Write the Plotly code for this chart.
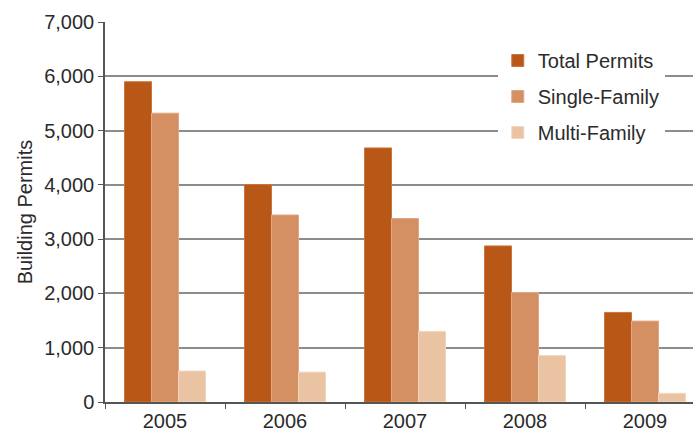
import plotly.graph_objects as go

years = ["2005", "2006", "2007", "2008", "2009"]
total_permits = [5900, 4005, 4680, 2875, 1650]
single_family = [5320, 3445, 3380, 2015, 1490]
multi_family = [570, 550, 1300, 855, 160]

series = [
    ("Total Permits", total_permits, "#B85716", "#C9763F"),
    ("Single-Family", single_family, "#D48F62", "#E0A884"),
    ("Multi-Family", multi_family, "#EAC3A3", "#F2D6C0"),
]

fig = go.Figure()
for name, vals, color, edge in series:
    fig.add_trace(go.Bar(
        x=years, y=vals, name=name, legendgroup=name,
        marker=dict(color=color, line=dict(color=edge, width=1)),
    ))

font_family = "Liberation Sans, Arial, sans-serif"
fig.update_layout(
    width=693, height=433,
    margin=dict(l=105, r=0, t=22, b=31),
    paper_bgcolor="white", plot_bgcolor="white",
    barmode="group", bargap=0.325, bargroupgap=0,
    font=dict(family=font_family, size=20, color="#2b2b2b"),
    showlegend=True,
    legend=dict(
        x=0.668, y=0.95, xanchor="left", yanchor="top",
        bgcolor="white", borderwidth=0,
        font=dict(size=20, color="#2b2b2b"),
        traceorder="grouped", tracegroupgap=7,
    ),
    xaxis=dict(
        type="category", range=[-0.5, 4.4],
        showline=True, linecolor="#555", linewidth=1.5,
        ticks="outside", tickson="boundaries", ticklen=5,
        tickcolor="#555", tickwidth=1,
        showgrid=False, tickfont=dict(size=20),
    ),
    yaxis=dict(
        range=[0, 7000], dtick=1000, tickformat=",d",
        showline=True, linecolor="#555", linewidth=1.5,
        ticks="outside", ticklen=5, tickcolor="#555",
        showgrid=True, gridcolor="#8c8c8c", gridwidth=1.5,
        zeroline=False, tickfont=dict(size=20),
        title=dict(text="Building Permits", font=dict(size=20), standoff=6),
    ),
)

fig.write_html("out.html")
